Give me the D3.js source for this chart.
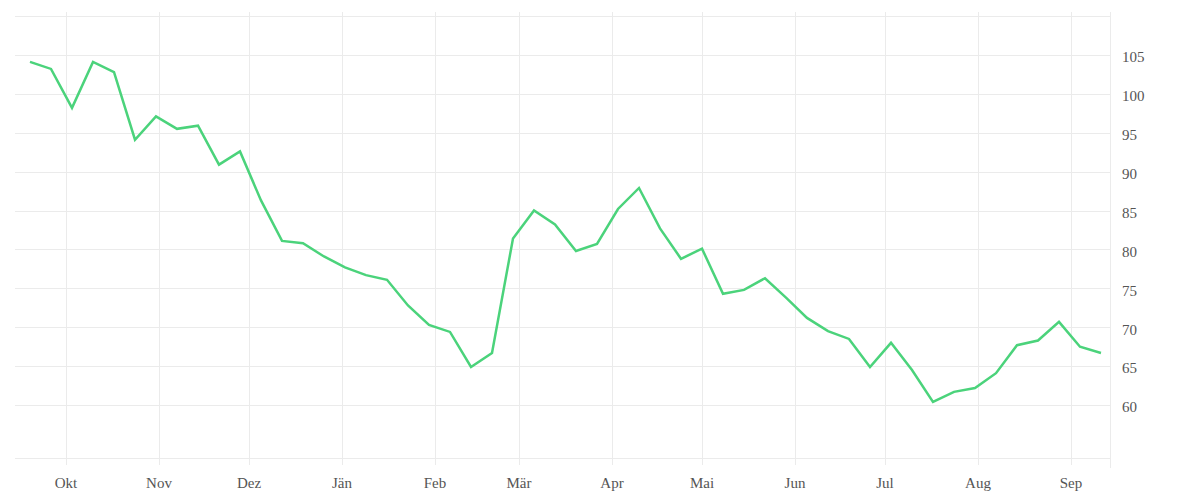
<!DOCTYPE html>
<html>
<head>
<meta charset="utf-8">
<script src="https://cdn.jsdelivr.net/npm/d3@7"></script>
<style>
  body { margin: 0; background: #fff; }
  .grid line { stroke: #ebebeb; stroke-width: 1px; shape-rendering: crispEdges; }
  .lbl { font-family: "Liberation Serif", serif; font-size: 15px; fill: #555; }
</style>
</head>
<body>
<div id="main_plot"></div>
<script>
// weekly values, Sep 2022 - Sep 2023
startDate = "2022-09-19";
values = [
  104.1, 103.2, 98.2, 104.1, 102.8, 94.1, 97.1, 95.5, 95.9, 90.9,
  92.6, 86.3, 81.1, 80.8, 79.1, 77.7, 76.7, 76.1, 72.8, 70.3,
  69.4, 64.9, 66.7, 81.4, 85.0, 83.2, 79.8, 80.7, 85.2, 87.9,
  82.7, 78.8, 80.1, 74.3, 74.8, 76.3, 73.8, 71.2, 69.5, 68.5,
  64.9, 68.0, 64.5, 60.4, 61.7, 62.2, 64.1, 67.7, 68.3, 70.7,
  67.5, 66.7
];
monthLabels = ["Okt", "Nov", "Dez", "Jän", "Feb", "Mär", "Apr", "Mai", "Jun", "Jul", "Aug", "Sep"];
yTicks = [60, 65, 70, 75, 80, 85, 90, 95, 100, 105];
yDomain = [53.2, 110];
xDomain = ["2022-09-14", "2023-09-14"];

let parseDate = d3.timeParse("%Y-%m-%d");
let first = parseDate(startDate);
let data = values.map(function(v, i) {
  return { date: d3.timeDay.offset(first, i * 7), count: v };
});

margin = { top: 16, right: 90, bottom: 42, left: 15 },
  width = 1200 - margin.left - margin.right,
  height = 500 - margin.top - margin.bottom;

let x = d3.scaleTime()
  .domain(xDomain.map(parseDate))
  .range([0, width]);

let y = d3.scaleLinear()
  .domain(yDomain)
  .range([height, 0]);

let svg = d3.select("#main_plot").append("svg")
  .attr("width", 1200)
  .attr("height", 500)
  .append("g")
  .attr("transform", "translate(" + margin.left + "," + margin.top + ")");

let grid = svg.append("g").attr("class", "grid");

// horizontal gridlines: ticks plus top and bottom of the plot
grid.selectAll(".hline")
  .data(yTicks.concat(yDomain))
  .enter().append("line")
  .attr("class", "hline")
  .attr("x1", 0)
  .attr("x2", width)
  .attr("y1", d => Math.round(y(d)) + 0.5)
  .attr("y2", d => Math.round(y(d)) + 0.5);

let monthTicks = d3.timeMonth.range(x.domain()[0], x.domain()[1]);

grid.selectAll(".vline")
  .data(monthTicks)
  .enter().append("line")
  .attr("class", "vline")
  .attr("x1", d => Math.round(x(d)) + 0.5)
  .attr("x2", d => Math.round(x(d)) + 0.5)
  .attr("y1", -4)
  .attr("y2", height + 7);

// right edge
grid.append("line")
  .attr("x1", width + 0.5)
  .attr("x2", width + 0.5)
  .attr("y1", -4)
  .attr("y2", height + 10);

svg.selectAll(".xlbl")
  .data(monthTicks)
  .enter().append("text")
  .attr("class", "lbl xlbl")
  .attr("x", d => x(d))
  .attr("y", height + 25)
  .attr("dy", ".35em")
  .style("text-anchor", "middle")
  .text((d, i) => monthLabels[i]);

svg.selectAll(".ylbl")
  .data(yTicks)
  .enter().append("text")
  .attr("class", "lbl ylbl")
  .attr("x", width + 12)
  .attr("y", d => y(d) + 2)
  .attr("dy", ".35em")
  .text(d => d);

let line = d3.line()
  .curve(d3.curveLinear)
  .x(d => x(d.date))
  .y(d => y(d.count));

svg.append("path")
  .datum(data)
  .attr("d", line)
  .attr("fill", "none")
  .attr("stroke", "#4bd37b")
  .attr("stroke-width", 2.5)
  .attr("stroke-linejoin", "miter");
</script>
</body>
</html>
